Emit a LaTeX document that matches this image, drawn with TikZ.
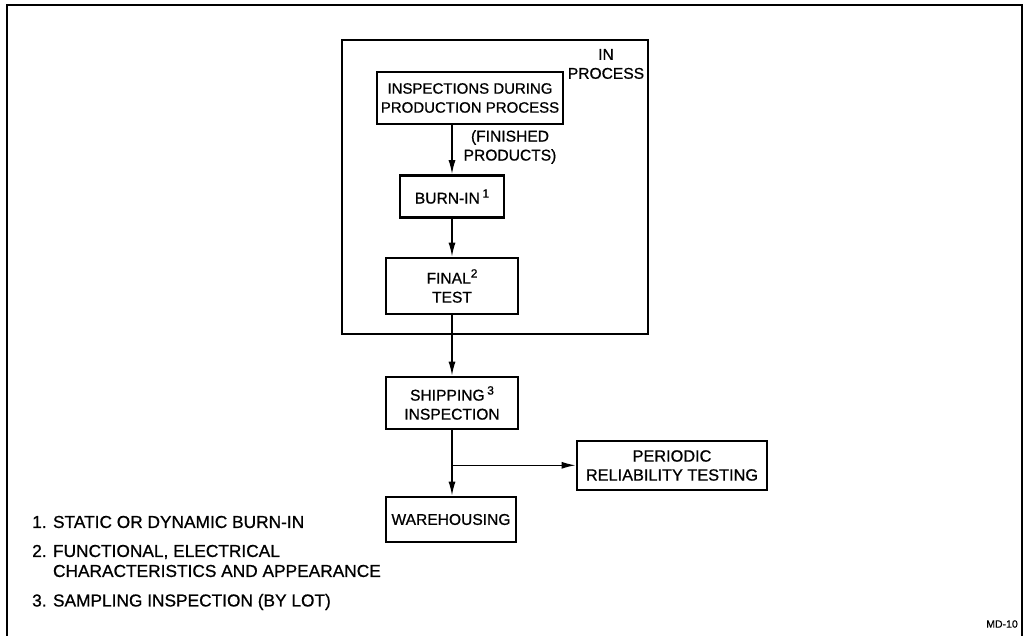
\documentclass[tikz,border=0pt]{standalone}
\usepackage{fontspec}
\setmainfont{Liberation Sans}[BoldFont=Liberation Sans, BoldFeatures={FakeBold=0.8}]
\usetikzlibrary{arrows.meta,calc}
\newcommand{\supnum}[1]{\raisebox{6pt}{\fontsize{12}{12}\selectfont #1}}
\begin{document}
\begin{tikzpicture}[x=1pt,y=-1pt,
  every node/.style={font=\fontsize{15.6}{19}\selectfont\bfseries, inner sep=0pt},
  box/.style={draw, line width=2.6pt, align=center},
  frameline/.style={line width=1.3pt},
  conn/.style={line width=1.5pt, -{Latex[length=14pt,width=7pt]}},
  note/.style={anchor=west, align=left, font=\fontsize{17.3}{20}\selectfont\bfseries}]
\useasboundingbox (0,0) rectangle (1026,636);
% outer frame (open at bottom)
\draw[frameline] (7,636) -- (7,5) -- (1022,5) -- (1022,636);
% in-process frame
\node[draw, frameline, minimum width=306pt, minimum height=294pt] (inproc) at (495,187) {};
\node[align=center] (inlbl) at (606,64) {IN\\PROCESS};
% boxes
\node[box, minimum width=186pt, minimum height=52pt, font=\fontsize{15}{19}\selectfont\bfseries] (insp) at (470,98) {INSPECTIONS DURING\\PRODUCTION PROCESS};
\node[box, minimum width=104pt, minimum height=42pt] (burn) at (452,196.5) {BURN-IN\,\supnum{1}};
\node[box, minimum width=132pt, minimum height=56pt] (final) at (452,286) {FINAL\supnum{2}\\TEST};
\node[box, minimum width=132pt, minimum height=52pt] (ship) at (452,403) {SHIPPING\,\supnum{3}\\INSPECTION};
\node[box, minimum width=130pt, minimum height=45pt] (ware) at (451,519.5) {WAREHOUSING};
\node[box, minimum width=190pt, minimum height=49pt, font=\fontsize{16.3}{19}\selectfont\bfseries] (period) at (672,465.5) {PERIODIC\\RELIABILITY TESTING};
\node[align=center] (fin) at (510,147) {(FINISHED\\PRODUCTS)};
% connectors
\draw[conn] (insp.south -| burn.north) -- (burn.north);
\draw[conn] (burn.south) -- (final.north);
\draw[conn] (final.south) -- (ship.north);
\draw[conn] (ship.south) -- (ware.north -| ship.south);
\coordinate (branch) at ($(ship.south)+(0,35)$);
\draw[conn] (branch) -- (branch -| period.west);
% notes
\node[note] (n1) at (32,522) {1. STATIC OR DYNAMIC BURN-IN};
\node[note] (n2) at (32,561) {2. FUNCTIONAL, ELECTRICAL\\\phantom{2. }CHARACTERISTICS AND APPEARANCE};
\node[note] (n3) at (32,602) {3. SAMPLING INSPECTION (BY LOT)};
\node[anchor=east, font=\fontsize{10.5}{12}\selectfont\bfseries] (md) at (1018,624) {MD-10};
\end{tikzpicture}
\end{document}
